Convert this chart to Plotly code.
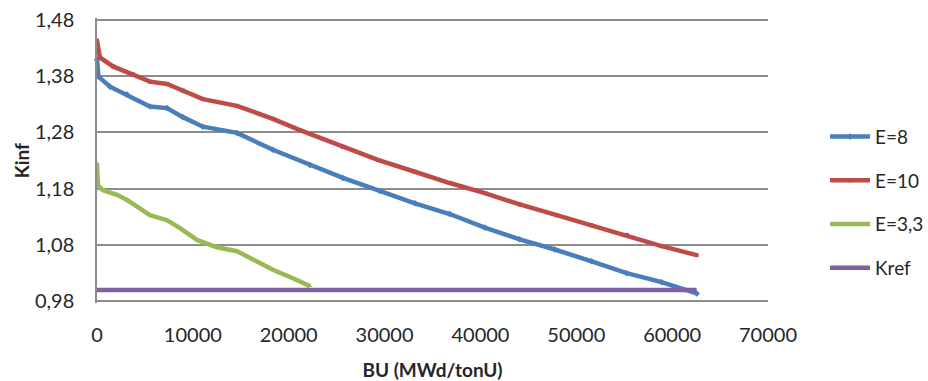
import plotly.graph_objects as go

# ---- data ----
bu_e8 = [0, 150, 1356, 3128, 5527, 7299, 8968, 11053, 14599, 18352, 22211, 25650,
         29500, 33160, 36800, 40460, 44100, 47760, 51600, 55260, 58900, 62560]
k_e8 = [1.409, 1.379, 1.361, 1.347, 1.326, 1.323, 1.307, 1.290, 1.279, 1.249, 1.222, 1.199,
        1.176, 1.154, 1.135, 1.111, 1.090, 1.072, 1.051, 1.030, 1.014, 0.994]

bu_e10 = [0, 300, 1668, 3753, 5527, 7299, 8968, 11053, 14599, 18352, 21170, 25650,
          29300, 33160, 36800, 40460, 44100, 47960, 51600, 55260, 58900, 62560]
k_e10 = [1.443, 1.413, 1.397, 1.383, 1.370, 1.366, 1.354, 1.339, 1.327, 1.304, 1.284, 1.254,
         1.231, 1.210, 1.190, 1.172, 1.152, 1.133, 1.115, 1.098, 1.078, 1.062]

bu_e33 = [0, 104, 626, 2085, 3128, 4484, 5527, 7299, 8655, 10428, 12513, 14599,
          16267, 18352, 20438, 22211]
k_e33 = [1.225, 1.186, 1.177, 1.169, 1.160, 1.145, 1.133, 1.124, 1.110, 1.089, 1.076, 1.069,
         1.054, 1.036, 1.021, 1.007]

bu_kref = [0, 62560]
k_kref = [1.0, 1.0]

y_ticks = [0.98, 1.08, 1.18, 1.28, 1.38, 1.48]
y_ticktext = ["0,98", "1,08", "1,18", "1,28", "1,38", "1,48"]
x_ticks = [0, 10000, 20000, 30000, 40000, 50000, 60000, 70000]
x_ticktext = ["0", "10000", "20000", "30000", "40000", "50000", "60000", "70000"]

FONT = "Lato"
TXT = "#262626"

fig = go.Figure()
series = [
    ("E=8", bu_e8, k_e8, "#4A7EBB", "diamond", 5),
    ("E=10", bu_e10, k_e10, "#BE4B48", "square", 4),
    ("E=3,3", bu_e33, k_e33, "#98B954", "triangle-up", 4),
    ("Kref", bu_kref, k_kref, "#7D60A0", "circle", 0),
]
for name, x, y, c, sym, ms in series:
    fig.add_trace(go.Scatter(
        x=x, y=y, name=name, legendgroup=name,
        mode="lines+markers" if ms else "lines",
        line=dict(color=c, width=4.5),
        marker=dict(symbol=sym, size=ms, color=c),
        cliponaxis=False,
    ))

fig.add_annotation(text="<b>Kinf</b>", xref="paper", yref="paper",
                   x=-0.112, y=0.5, xanchor="center", yanchor="middle",
                   textangle=-90, showarrow=False,
                   font=dict(family=FONT, size=19, color=TXT))

fig.update_layout(
    width=928, height=381,
    margin=dict(l=97, r=160, t=18, b=78, autoexpand=False),
    paper_bgcolor="white", plot_bgcolor="white",
    font=dict(family=FONT, size=20, color=TXT),
    showlegend=True,
    legend=dict(x=1.085, y=0.65, xanchor="left", yanchor="top",
                font=dict(family=FONT, size=19, color=TXT),
                tracegroupgap=16, itemwidth=40, bgcolor="rgba(0,0,0,0)"),
    xaxis=dict(range=[0, 70000], tickvals=x_ticks, ticktext=x_ticktext,
               showgrid=False, zeroline=False, showline=False,
               ticks="", ticklabelstandoff=18,
               tickfont=dict(family=FONT, size=20, color=TXT),
               title=dict(text="<b>BU (MWd/tonU)</b>", standoff=18,
                          font=dict(family=FONT, size=19, color=TXT))),
    yaxis=dict(range=[0.977, 1.483], tickvals=y_ticks, ticktext=y_ticktext,
               showgrid=True, gridcolor="#8C8C8C", gridwidth=1.5,
               zeroline=False, showline=True, linecolor="#8C8C8C", linewidth=1.5,
               ticks="", ticklabelstandoff=17,
               tickfont=dict(family=FONT, size=20, color=TXT)),
)

fig.write_html("out.html")
